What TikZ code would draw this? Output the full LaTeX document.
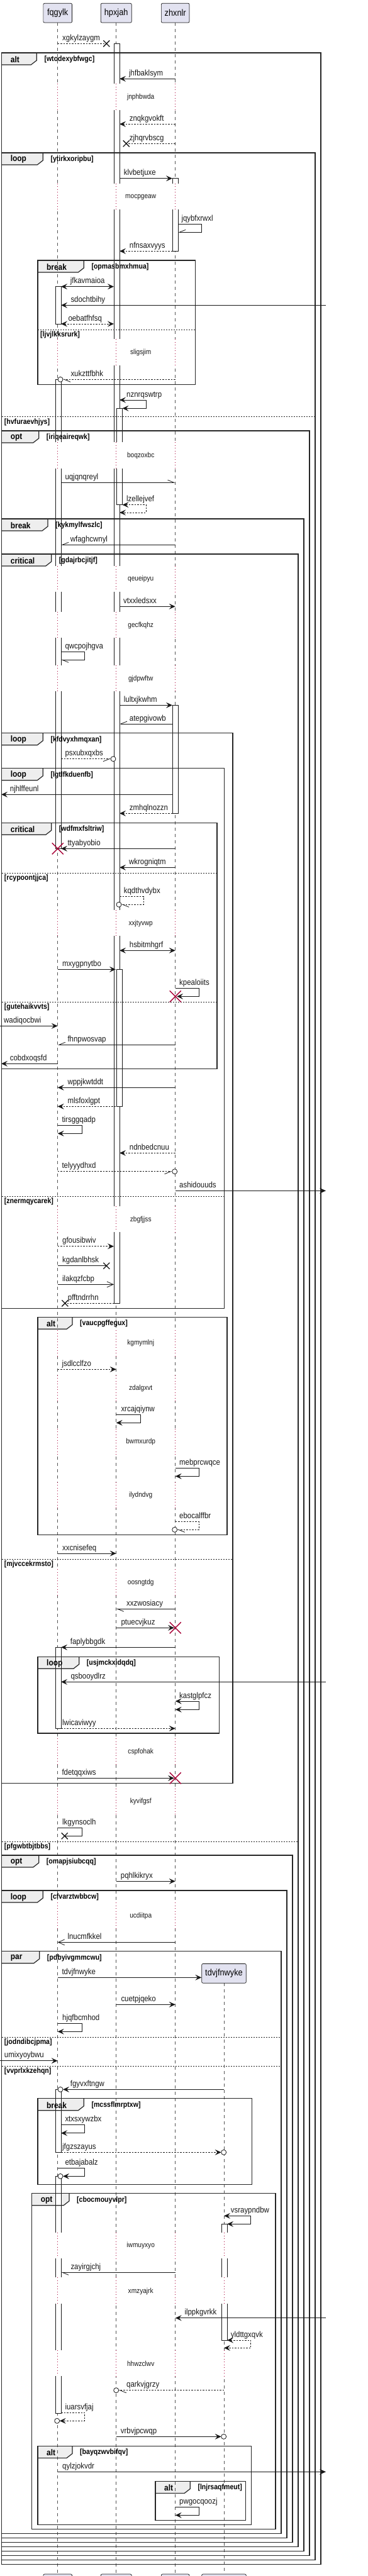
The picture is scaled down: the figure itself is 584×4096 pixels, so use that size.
\documentclass[tikz,border=0pt]{standalone}
\usepackage{fontspec}
\usetikzlibrary{arrows.meta}
\newfontfamily\pumlfont{Liberation Sans}[FakeStretch=0.88]
\definecolor{lifegray}{HTML}{555555}
\definecolor{delayred}{HTML}{A80036}
\definecolor{partfill}{HTML}{E2E2F0}
\definecolor{ink}{HTML}{181818}
\definecolor{tabfill}{HTML}{EEEEEE}
\tikzset{
  msg/.style={draw=ink, line width=0.8pt},
  dmsg/.style={msg, dash pattern=on 2.5pt off 2pt},
  tipF/.style={-{Stealth[length=10pt,width=9pt,inset=4pt]}},
  tipBoth/.style={{Stealth[length=10pt,width=9pt,inset=4pt]}-{Stealth[length=10pt,width=9pt,inset=4pt]}},
  tipOpen/.style={-{Straight Barb[length=10pt,width=9pt]}},
  harpA/.style={-{Straight Barb[harpoon,length=10pt,width=8pt]}},
  harpB/.style={-{Straight Barb[harpoon,swap,length=10pt,width=8pt]}},
  part/.style={draw=ink, fill=partfill, rounded corners=2pt, line width=0.7pt, minimum height=30.7pt, inner sep=0pt, font=\pumlfont\fontsize{14.5}{17}\selectfont},
  lifeline/.style={draw=lifegray, line width=0.7pt, dash pattern=on 5pt off 5pt},
  delayline/.style={draw=delayred, line width=0.9pt, dash pattern=on 1pt off 3.5pt},
  actline/.style={draw=ink, line width=0.8pt},
  frameline/.style={draw=black!85, line width=1.4pt},
  tabline/.style={draw=black!85, line width=1.2pt},
  divline/.style={draw=black!85, line width=0.8pt, dash pattern=on 2pt off 2pt},
  mlbl/.style={anchor=base west, inner sep=0pt, font=\pumlfont\fontsize{13}{15}\selectfont, text=ink},
  delaytext/.style={anchor=center, inner sep=0pt, font=\pumlfont\fontsize{11.5}{13}\selectfont, text=ink},
  kindlbl/.style={anchor=west, inner sep=0pt, font=\pumlfont\bfseries\fontsize{13.5}{15}\selectfont},
  condlbl/.style={anchor=west, inner sep=0pt, font=\pumlfont\bfseries\fontsize{12}{14}\selectfont},
  redx/.style={draw=delayred, line width=1.4pt},
  blackx/.style={draw=ink, line width=1.3pt},
  ocirc/.style={draw=ink, fill=white, line width=0.8pt},
}
\newcommand\ActF[3]{\filldraw[actline,fill=white] (#1,#2) rectangle (#1+9,#3);}
\newcommand\ActT[3]{\fill[white] (#1,#2) rectangle (#1+9,#3); \draw[actline] (#1,#3) -- (#1,#2) -- (#1+9,#2) -- (#1+9,#3);}
\newcommand\ActB[3]{\fill[white] (#1,#2) rectangle (#1+9,#3); \draw[actline] (#1,#2) -- (#1,#3) -- (#1+9,#3) -- (#1+9,#2);}
\newcommand\ActN[3]{\fill[white] (#1,#2) rectangle (#1+9,#3); \draw[actline] (#1,#2) -- (#1,#3); \draw[actline] (#1+9,#2) -- (#1+9,#3);}
\newcommand\RX[2]{\draw[redx] (#1-9,#2-9) -- (#1+9,#2+9) (#1-9,#2+9) -- (#1+9,#2-9);}
\newcommand\BX[2]{\draw[blackx] (#1-5,#2-5) -- (#1+5,#2+5) (#1-5,#2+5) -- (#1+5,#2-5);}
\newcommand\OC[2]{\draw[ocirc] (#1,#2) circle (4pt);}
\newcommand\ML[3]{\node[mlbl] at (#1,#2-5) {#3};}
\newcommand\Delay[5]{%
  \foreach \L in {#1} {\draw[white,line width=3pt] (\L |- 0,#2) -- (\L |- 0,#3); \draw[delayline] (\L |- 0,#2) -- (\L |- 0,#3);}
  \node[delaytext] at (223.7,#4) {#5};}
\newcommand\Div[4]{\draw[divline] (#1,#3) -- (#2,#3); \node[condlbl] at (#1+4,#3+8.5) {#4};}
\newcommand\FrameList{%
  \Frm{2.7}{84}{510}{4077.7}{58.3}{alt}{[wtodexybfwgc]}
  \Frm{2.7}{243}{501}{4070.7}{68.3}{loop}{[ytirkxoripbu]}
  \Frm{60}{414}{310.3}{611.7}{133.3}{break}{[opmasbmxhmua]}
  \Frm{2.7}{685}{492}{4063.7}{61.7}{opt}{[iriqeaireqwk]}
  \Frm{2.7}{825}{483}{4056.7}{76}{break}{[kykmylfwszlc]}
  \Frm{2.7}{881}{474}{4049.7}{81.7}{critical}{[gdajrbcjitjf]}
  \Frm{2.7}{1165.7}{370}{2835.3}{68.3}{loop}{[kfdvyxhmqxan]}
  \Frm{2.7}{1221.7}{356.7}{2080.7}{68.3}{loop}{[lgtlfkduenfb]}
  \Frm{2.7}{1308.3}{345}{1699.3}{81.7}{critical}{[wdfmxfsltriw]}
  \Frm{60}{2094.3}{361}{2440.3}{115}{alt}{[vaucpgffegux]}
  \Frm{60}{2634.3}{348.3}{2756}{125.7}{loop}{[usjmckxidqdq]}
  \Frm{2.7}{2950}{465}{4042.7}{61.7}{opt}{[omapjsiubcqq]}
  \Frm{2.7}{3006}{456}{4035.7}{68.3}{loop}{[cfvarztwbbcw]}
  \Frm{2.7}{3102.7}{447}{4028.7}{62.7}{par}{[pdbyivgmmcwu]}
  \Frm{60}{3336.7}{400.7}{3473.3}{133.3}{break}{[mcssflmrptxw]}
  \Frm{50.7}{3487.7}{438}{4021.7}{110}{opt}{[cbocmouyvlpr]}
  \Frm{60}{3889.3}{399.7}{4014.3}{115}{alt}{[bayqzwvbifqv]}
  \Frm{247}{3945.3}{390.7}{4007.7}{302.3}{alt}{[lnjrsaqfmeut]}
}
\begin{document}
\begin{tikzpicture}[x=1pt,y=-1pt]
\useasboundingbox (0,0) rectangle (584,4096);
\clip (0,0) rectangle (584,4096);
\fill[white] (0,0) rectangle (584,4096);
% tab fills (pass 1)
\def\Frm#1#2#3#4#5#6#7{\fill[tabfill] (#1,#2) -- (#5,#2) -- (#5,#2+12) -- (#5-9,#2+19) -- (#1,#2+19) -- cycle;}
\FrameList
% participants
\node[part, minimum width=45.7pt] (pF) at (91.7,20.65) {fqgylk};
\node[part, minimum width=49pt] (pH) at (184.7,20.65) {hpxjah};
\node[part, minimum width=44.7pt] (pZ) at (278.7,20.65) {zhxnlr};
\node[part, minimum width=45.7pt] (qF) at (91.7,4108.35) {fqgylk};
\node[part, minimum width=49pt] (qH) at (184.7,4108.35) {hpxjah};
\node[part, minimum width=44.7pt] (qZ) at (278.7,4108.35) {zhxnlr};
\node[part, minimum width=70.6pt] (qT) at (356,4108.35) {tdvjfnwyke};
\coordinate (F) at (91.7,0); \coordinate (H) at (184.7,0); \coordinate (Z) at (278.7,0); \coordinate (T) at (356,0);
\coordinate (Fl) at (88,0); \coordinate (Fr) at (97,0);
\coordinate (Hl) at (181,0); \coordinate (Hr) at (190,0);
\coordinate (Nl) at (184,0); \coordinate (Nr) at (194.5,0);
\coordinate (Zl) at (274,0); \coordinate (Zr) at (283,0);
\coordinate (Tl) at (352,0); \coordinate (Tr) at (361,0);
\coordinate (LE) at (2,0); \coordinate (LS) at (0,0); \coordinate (RE) at (518,0);
% lifelines
\draw[lifeline] (pF.south) -- (qF.north);
\draw[lifeline] (pH.south) -- (qH.north);
\draw[lifeline] (pZ.south) -- (qZ.north);
\draw[lifeline] (T |- 0,3153.3) -- (qT.north);
% delays
\Delay{F,H,Z}{133.3}{175}{155}{jnphbwda}
\Delay{F,H,Z}{291.7}{333.3}{313.3}{mocpgeaw}
\Delay{F,H,Z}{539.3}{580.7}{561}{sligsjim}
\Delay{F,H,Z}{703.3}{745}{725}{boqzoxbc}
\Delay{F,H,Z}{900}{941}{920.7}{qeueipyu}
\Delay{F,H,Z}{972.7}{1014.3}{994.3}{gecfkqhz}
\Delay{F,H,Z}{1057.7}{1099.3}{1079.3}{gjdpwftw}
\Delay{F,H,Z}{1446.7}{1488.3}{1468.3}{xxjtyvwp}
\Delay{F,H,Z}{1918.3}{1959.3}{1939.3}{zbgfjjss}
\Delay{F,H,Z}{2115}{2156.4}{2135.7}{kgmymlnj}
\Delay{F,H,Z}{2186.6}{2228}{2207.3}{zdalgxvt}
\Delay{F,H,Z}{2271.6}{2313}{2292.3}{bwmxurdp}
\Delay{F,H,Z}{2356.6}{2398}{2377.3}{ilydndvg}
\Delay{F,H,Z}{2495.3}{2536.7}{2516}{oosngtdg}
\Delay{F,H,Z}{2764.3}{2805.7}{2785}{cspfohak}
\Delay{F,H,Z}{2843.6}{2885}{2864.3}{kyvifgsf}
\Delay{F,H,Z}{3025.3}{3066.7}{3046}{ucdiitpa}
\Delay{F,H,Z,T}{3550}{3590.7}{3570.7}{iwmuyxyo}
\Delay{F,H,Z,T}{3621.3}{3663.3}{3643.3}{xmzyajrk}
\Delay{F,H,Z,T}{3737}{3778.3}{3758.3}{hhwzclwv}
% activations
\ActT{181}{69.3}{133.3}
\ActN{181}{175}{291.7}
\ActN{181}{333.3}{539.3}
\ActN{181}{580.7}{703.3}
\ActN{181}{745}{900}
\ActN{181}{941}{972.7}
\ActN{181}{1014.3}{1057.7}
\ActN{181}{1099.3}{1446.7}
\ActN{181}{1488.3}{1918.3}
\ActB{181}{1959.3}{2072.3}
\ActT{185.5}{649.3}{703.3}
\ActB{185.5}{745}{802.7}
\ActF{185.5}{1541.3}{1759.3}
\ActT{274}{283.7}{291.7}
\ActB{274}{333.3}{399.3}
\ActF{274}{1121.3}{1293.3}
\ActF{88}{455.7}{515}
\ActT{88}{603.3}{703.3}
\ActN{88}{745}{900}
\ActN{88}{941}{972.7}
\ActN{88}{1014.3}{1057.7}
\ActB{88}{1099.3}{1349.3}
\ActF{88}{2619.3}{2748.3}
\ActF{88}{3322.3}{3422.3}
\ActT{88}{3460.3}{3550}
\ActN{88}{3590.7}{3621.3}
\ActN{88}{3663.3}{3737}
\ActB{88}{3778.3}{3837.3}
\ActT{352}{3536.3}{3550}
\ActN{352}{3590.7}{3621.3}
\ActB{352}{3663.3}{3721}
% frames (pass 2)
\def\Frm#1#2#3#4#5#6#7{\draw[frameline] (#1,#2) rectangle (#3,#4); \draw[tabline] (#5,#2) -- (#5,#2+12) -- (#5-9,#2+19) -- (#1,#2+19); \node[kindlbl] at (#1+14,#2+10.5) {#6}; \node[condlbl] at (#5+12,#2+10.5) {#7};}
\FrameList
\Div{2.7}{501}{662.7}{[hvfuraevhjys]}
\Div{60}{310.3}{524}{[ljvjlkksrurk]}
\Div{2.7}{474}{2928.3}{[pfgwbtbjtbbs]}
\Div{2.7}{370}{2479}{[mjvccekrmsto]}
\Div{2.7}{356.7}{1902}{[znermqycarek]}
\Div{2.7}{345}{1388.3}{[rcypoontjjca]}
\Div{2.7}{345}{1593.3}{[gutehaikvvts]}
\Div{2.7}{447}{3239.3}{[jodndibcjpma]}
\Div{2.7}{447}{3285.3}{[vvprlxkzehqn]}
% created participant
\node[part, minimum width=70.6pt] (pT) at (356,3137.8) {tdvjfnwyke};
% messages
\draw[dmsg] (F |- 0,69.3) -- (169.3,69.3); \BX{169.3}{69.3} \ML{99}{69.3}{xgkylzaygm}
\draw[msg,tipF] (Z |- 0,125.3) -- (Hr |- 0,125.3); \ML{205}{125.3}{jhfbaklsym}
\draw[dmsg,tipF] (Z |- 0,197.3) -- (Hr |- 0,197.3); \ML{205.7}{197.3}{znqkgvokft}
\draw[dmsg] (Z |- 0,228.3) -- (200.7,228.3); \BX{200.7}{228.3} \ML{205.7}{228.3}{zjhqrvbscg}
\draw[msg,tipF] (Hr |- 0,283.7) -- (Zl |- 0,283.7); \ML{196.7}{283.7}{klvbetjuxe}
\draw[msg,harpB] (Zr |- 0,356) -- (320.7,356) -- (320.7,369.3) -- (Zr |- 0,369.3); \ML{288.3}{356}{jqybfxrwxl}
\draw[dmsg,tipF] (Zl |- 0,399.3) -- (Hr |- 0,399.3); \ML{205.7}{399.3}{nfnsaxvyys}
\draw[msg,tipBoth] (Fr |- 0,455.7) -- (Hl |- 0,455.7); \ML{111.7}{455.7}{jfkavmaioa}
\draw[msg,tipF] (RE |- 0,485.3) -- (Fr |- 0,485.3); \ML{112.3}{485.3}{sdochtbihy}
\draw[dmsg,tipBoth] (Fr |- 0,515) -- (Hl |- 0,515); \ML{108.3}{515}{oebatfhfsq}
\draw[dmsg,harpA] (Z |- 0,603.3) -- (100,603.3); \OC{96}{603.3} \ML{112.3}{603.3}{xukzttfbhk}
\draw[msg,tipBoth] (Hr |- 0,636) -- (232,636) -- (232,649.3) -- (Nr |- 0,649.3); \ML{201}{636}{nznrqswtrp}
\draw[msg,harpA] (Fr |- 0,767.3) -- (Z |- 0,767.3); \ML{103.3}{767.3}{uqjqnqreyl}
\draw[dmsg,tipBoth] (Nr |- 0,802.7) -- (232,802.7) -- (232,815) -- (Hr |- 0,815); \ML{201}{802.7}{lzellejvef}
\draw[msg,harpB] (Z |- 0,866.3) -- (Fr |- 0,866.3); \ML{111.7}{866.3}{wfaghcwnyl}
\draw[msg,tipF] (Hr |- 0,964.3) -- (Z |- 0,964.3); \ML{196}{964.3}{vtxxledsxx}
\draw[msg,harpA] (Fr |- 0,1036) -- (134.7,1036) -- (134.7,1049.3) -- (Fr |- 0,1049.3); \ML{103.3}{1036}{qwcpojhgva}
\draw[msg,tipF] (Hr |- 0,1121.3) -- (Zl |- 0,1121.3); \ML{196.7}{1121.3}{lultxjkwhm}
\draw[msg,harpB] (Zl |- 0,1151) -- (Hr |- 0,1151); \ML{205.7}{1151}{atepgivowb}
\draw[dmsg,harpB] (Fr |- 0,1206.7) -- (176,1206.7); \OC{180}{1206.7} \ML{103.3}{1206.7}{psxubxqxbs}
\draw[msg,tipF] (Zl |- 0,1263.3) -- (LE |- 0,1263.3); \ML{15.7}{1263.3}{njhlffeunl}
\draw[dmsg,tipF] (Zl |- 0,1293.3) -- (Hr |- 0,1293.3); \ML{205.7}{1293.3}{zmhqlnozzn}
\draw[msg,tipF] (Z |- 0,1349.3) -- (Fr |- 0,1349.3); \RX{91.7}{1349.3} \ML{107.3}{1349.3}{ttyabyobio}
\draw[msg,tipF] (Z |- 0,1379.3) -- (Hr |- 0,1379.3); \ML{205}{1379.3}{wkrogniqtm}
\draw[dmsg,harpA] (Hr |- 0,1425.7) -- (228,1425.7) -- (228,1438.3) -- (193,1438.3); \OC{189}{1438.3} \ML{196.7}{1425.7}{kqdthvdybx}
\draw[msg,tipBoth] (Hr |- 0,1511.3) -- (Z |- 0,1511.3); \ML{205.7}{1511.3}{hsbitmhgrf}
\draw[msg,tipF] (F |- 0,1541.3) -- (Nl |- 0,1541.3); \ML{99}{1541.3}{mxygpnytbo}
\draw[msg,tipF] (Z |- 0,1571.3) -- (316,1571.3) -- (316,1584.3) -- (281,1584.3); \RX{278.7}{1584.3} \ML{285}{1571.3}{kpealoiits}
\draw[msg,tipF] (LS |- 0,1631.3) -- (F |- 0,1631.3); \ML{6}{1631.3}{wadiqocbwi}
\draw[msg,harpB] (Z |- 0,1661.3) -- (F |- 0,1661.3); \ML{107.3}{1661.3}{fhnpwosvap}
\draw[msg,tipF] (F |- 0,1691.3) -- (LE |- 0,1691.3); \ML{15.7}{1691.3}{cobdxoqsfd}
\draw[msg,tipF] (Z |- 0,1729.3) -- (F |- 0,1729.3); \ML{107.3}{1729.3}{wppjkwtddt}
\draw[dmsg,tipF] (Nl |- 0,1759.3) -- (F |- 0,1759.3); \ML{107.3}{1759.3}{mlsfoxlgpt}
\draw[msg,tipF] (F |- 0,1789.3) -- (130,1789.3) -- (130,1802.3) -- (F |- 0,1802.3); \ML{98.3}{1789.3}{tirsggqadp}
\draw[dmsg,tipF] (Z |- 0,1833.3) -- (Hr |- 0,1833.3); \ML{205.7}{1833.3}{ndnbedcnuu}
\draw[dmsg,harpB] (F |- 0,1862.7) -- (273.7,1862.7); \OC{277.7}{1862.7} \ML{98.3}{1862.7}{telyyydhxd}
\draw[msg,tipF] (Z |- 0,1893.3) -- (RE |- 0,1893.3); \ML{285}{1893.3}{ashidouuds}
\draw[dmsg,tipF] (F |- 0,1981.7) -- (Hl |- 0,1981.7); \ML{99}{1981.7}{gfousibwiv}
\draw[msg] (F |- 0,2012.7) -- (169.3,2012.7); \BX{169.3}{2012.7} \ML{99}{2012.7}{kgdanlbhsk}
\draw[msg,tipOpen] (F |- 0,2042.3) -- (Hl |- 0,2042.3); \ML{99}{2042.3}{ilakqzfcbp}
\draw[dmsg] (Hl |- 0,2072.3) -- (103.3,2072.3); \BX{103.3}{2072.3} \ML{107.7}{2072.3}{pfftndrrhn}
\draw[dmsg,tipF] (F |- 0,2177.3) -- (H |- 0,2177.3); \ML{98.3}{2177.3}{jsdlcclfzo}
\draw[msg,tipF] (H |- 0,2249.3) -- (223.3,2249.3) -- (223.3,2262.3) -- (H |- 0,2262.3); \ML{192.3}{2249.3}{xrcajqiynw}
\draw[msg,tipF] (Z |- 0,2334.3) -- (316,2334.3) -- (316,2347.3) -- (Z |- 0,2347.3); \ML{285}{2334.3}{mebprcwqce}
\draw[dmsg,harpA] (Z |- 0,2419.3) -- (316,2419.3) -- (316,2432.3) -- (281.7,2432.3); \OC{277.7}{2432.3} \ML{285}{2419.3}{ebocalffbr}
\draw[msg,tipF] (F |- 0,2470) -- (H |- 0,2470); \ML{99}{2470}{xxcnisefeq}
\draw[msg,harpA] (Z |- 0,2558.3) -- (H |- 0,2558.3); \ML{201}{2558.3}{xxzwosiacy}
\draw[msg,tipF] (H |- 0,2588.3) -- (277,2588.3); \RX{278.7}{2588.3} \ML{192.3}{2588.3}{ptuecvjkuz}
\draw[msg,tipF] (Z |- 0,2619.3) -- (Fr |- 0,2619.3); \ML{111.7}{2619.3}{faplybbgdk}
\draw[msg,tipF] (RE |- 0,2674.3) -- (Fr |- 0,2674.3); \ML{112.3}{2674.3}{qsbooydlrz}
\draw[msg,tipBoth] (Z |- 0,2705) -- (316,2705) -- (316,2718.3) -- (Z |- 0,2718.3); \ML{285}{2705}{kastglpfcz}
\draw[dmsg,tipF] (Fr |- 0,2748.3) -- (Z |- 0,2748.3); \ML{99}{2748.3}{lwicaviwyy}
\draw[msg,tipF] (F |- 0,2827.3) -- (277,2827.3); \RX{278.7}{2827.3} \ML{98.3}{2827.3}{fdetqqxiws}
\draw[msg] (F |- 0,2906.7) -- (130,2906.7) -- (130,2919.3) -- (102.7,2919.3); \BX{102.7}{2919.3} \ML{99}{2906.7}{lkgynsoclh}
\draw[msg,tipF] (H |- 0,2991.3) -- (Z |- 0,2991.3); \ML{191.7}{2991.3}{pqhlkikryx}
\draw[msg,tipOpen] (Z |- 0,3088.3) -- (F |- 0,3088.3); \ML{107.3}{3088.3}{lnucmfkkel}
\draw[msg,tipF] (F |- 0,3144.3) -- (pT.west |- 0,3144.3); \ML{98.3}{3144.3}{tdvjfnwyke}
\draw[msg,tipF] (H |- 0,3187.3) -- (Z |- 0,3187.3); \ML{192.3}{3187.3}{cuetpjqeko}
\draw[msg,tipF] (F |- 0,3217.3) -- (130,3217.3) -- (130,3230.3) -- (F |- 0,3230.3); \ML{99}{3217.3}{hjqfbcmhod}
\draw[msg,tipF] (LS |- 0,3276.7) -- (F |- 0,3276.7); \ML{6.7}{3276.7}{umixyoybwu}
\draw[msg,tipF] (T |- 0,3322.3) -- (100,3322.3); \OC{96}{3322.3} \ML{111.7}{3322.3}{fgyvxftngw}
\draw[msg,tipF] (Fr |- 0,3378.3) -- (134.7,3378.3) -- (134.7,3391.7) -- (Fr |- 0,3391.7); \ML{103.3}{3378.3}{xtxsxywzbx}
\draw[dmsg,tipF] (Fr |- 0,3422.3) -- (351.7,3422.3); \OC{355.7}{3422.3} \ML{99}{3422.3}{jfgzszayus}
\draw[msg,tipF] (F |- 0,3447.7) -- (134.7,3447.7) -- (134.7,3460.3) -- (100,3460.3); \OC{96}{3460.3} \ML{103.3}{3447.7}{etbajabalz}
\draw[msg,tipBoth] (T |- 0,3523.3) -- (398.7,3523.3) -- (398.7,3536.3) -- (Tr |- 0,3536.3); \ML{366.7}{3523.3}{vsraypndbw}
\draw[msg,harpA] (Z |- 0,3613.3) -- (Fr |- 0,3613.3); \ML{112.3}{3613.3}{zayirgjchj}
\draw[msg,tipF] (RE |- 0,3685.7) -- (Z |- 0,3685.7); \ML{293.3}{3685.7}{ilppkgvrkk}
\draw[dmsg,tipBoth] (Tr |- 0,3721) -- (398.7,3721) -- (398.7,3733.3) -- (T |- 0,3733.3); \ML{366.7}{3721}{yldttgxqvk}
\draw[dmsg,harpA] (T |- 0,3800.7) -- (188.7,3800.7); \OC{184.7}{3800.7} \ML{201}{3800.7}{qarkvjgrzy}
\draw[dmsg,tipF] (Fr |- 0,3836.3) -- (134.7,3836.3) -- (134.7,3849.3) -- (94.7,3849.3); \OC{90.7}{3849.3} \ML{103.3}{3836.3}{iuarsvfjaj}
\draw[msg,tipF] (H |- 0,3874.3) -- (351.7,3874.3); \OC{355.7}{3874.3} \ML{191.7}{3874.3}{vrbvjpcwqp}
\draw[msg,tipF] (F |- 0,3930.3) -- (RE |- 0,3930.3); \ML{99}{3930.3}{qylzjokvdr}
\draw[msg,tipF] (Z |- 0,3986.3) -- (316,3986.3) -- (316,3999.3) -- (Z |- 0,3999.3); \ML{285}{3986.3}{pwgocqoozj}
\end{tikzpicture}
\end{document}
